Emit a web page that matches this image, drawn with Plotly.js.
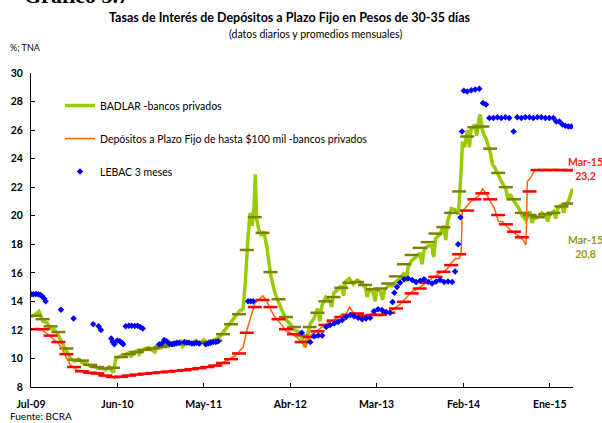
<!DOCTYPE html>
<html>
<head>
<meta charset="utf-8">
<script src="https://cdn.plot.ly/plotly-3.0.1.min.js"></script>
<style>
  body { margin: 0; background: #fff; }
  #grafico { width: 602px; height: 423px; }
</style>
</head>
<body>
<div id="grafico"></div>
<script>
// Meses de los promedios mensuales (Jul-09 a Mar-15)
const mesesProm = [
    '2009-07','2009-08','2009-09','2009-10','2009-11','2009-12',
    '2010-01','2010-02','2010-03','2010-04','2010-05','2010-06','2010-07','2010-08','2010-09','2010-10','2010-11','2010-12',
    '2011-01','2011-02','2011-03','2011-04','2011-05','2011-06','2011-07','2011-08','2011-09','2011-10','2011-11','2011-12',
    '2012-01','2012-02','2012-03','2012-04','2012-05','2012-06','2012-07','2012-08','2012-09','2012-10','2012-11','2012-12',
    '2013-01','2013-02','2013-03','2013-04','2013-05','2013-06','2013-07','2013-08','2013-09','2013-10','2013-11','2013-12',
    '2014-01','2014-02','2014-03','2014-04','2014-05','2014-06','2014-07','2014-08','2014-09','2014-10','2014-11','2014-12',
    '2015-01','2015-02','2015-03'
];

// Promedio mensual BADLAR bancos privados
const badlarProm = [
    13.0, 12.75, 12.25, 11.85, 10.7, 9.9, 9.85, 9.55, 9.4, 9.3,
    9.35, 10.1, 10.3, 10.45, 10.6, 10.7, 10.8, 10.9, 11.0, 11.05,
    11.1, 11.1, 11.15, 11.25, 11.7, 12.4, 13.1, 17.6, 19.9, 18.8,
    16.05, 14.15, 12.9, 12.2, 11.6, 12.2, 13.2, 14.0, 14.3, 14.95,
    15.3, 15.35, 15.15, 14.85, 14.9, 15.25, 15.75, 16.6, 17.25, 17.75,
    18.15, 18.75, 19.2, 20.2, 21.7, 25.55, 26.2, 26.25, 24.7, 23.0,
    22.0, 21.15, 20.2, 20.05, 19.9, 20.1, 20.2, 20.65, 20.85
];

// Promedio mensual depositos a plazo fijo hasta $100 mil
const depProm = [
    12.05, 12.05, 11.6, 11.15, 10.3, 9.4, 9.1, 9.0, 8.95, 8.8,
    8.7, 8.72, 8.8, 8.87, 8.93, 8.98, 9.03, 9.08, 9.13, 9.18,
    9.25, 9.32, 9.4, 9.5, 9.68, 9.95, 10.35, 11.8, 13.6, 14.1,
    13.6, 12.75, 12.05, 11.7, 11.15, 11.5, 11.9, 12.35, 12.65, 12.9,
    13.05, 13.15, 13.0, 13.05, 13.05, 13.2, 13.5, 13.97, 14.56, 14.9,
    15.3, 15.72, 16.07, 16.54, 17.3, 20.36, 21.15, 21.57, 21.15, 20.05,
    19.4, 18.88, 18.49, 21.7, 23.2, 23.2, 23.2, 23.2, 23.2
];

// BADLAR diaria (lecturas aproximadas, bordes de la banda)
const badlarDiario = [
    ['2009-07-01',12.9],['2009-07-16',13.05],['2009-08-01',13.3],['2009-08-10',12.9],['2009-08-16',12.6],
    ['2009-09-01',12.5],['2009-09-16',12.1],['2009-10-01',12.0],['2009-10-16',11.6],
    ['2009-11-01',11.0],['2009-11-16',10.5],['2009-12-01',10.0],['2009-12-16',9.8],
    ['2010-01-01',9.95],['2010-01-16',9.7],['2010-02-01',9.65],['2010-02-16',9.45],
    ['2010-03-01',9.5],['2010-03-16',9.3],['2010-04-01',9.35],['2010-04-16',9.2],
    ['2010-05-01',9.4],['2010-05-16',9.0],['2010-05-25',10.0],['2010-06-01',10.05],['2010-06-16',10.2],
    ['2010-07-01',10.25],['2010-07-16',10.4],['2010-07-24',10.1],['2010-08-01',10.4],['2010-08-16',10.55],
    ['2010-08-24',10.3],['2010-09-01',10.5],['2010-09-16',10.7],['2010-10-01',10.75],['2010-10-16',10.6],
    ['2010-10-24',10.45],['2010-11-01',10.9],['2010-11-16',10.75],['2010-12-01',11.0],['2010-12-16',10.85],
    ['2011-01-01',11.1],['2011-01-16',10.95],['2011-02-01',11.2],['2011-02-08',10.85],['2011-02-16',11.0],
    ['2011-03-01',11.2],['2011-03-16',11.05],['2011-04-01',11.25],['2011-04-16',11.0],
    ['2011-05-01',11.3],['2011-05-16',11.1],['2011-06-01',11.2],['2011-06-16',11.35],
    ['2011-07-01',11.5],['2011-07-16',11.85],['2011-08-01',12.2],['2011-08-16',12.6],
    ['2011-09-01',12.9],['2011-09-16',13.3],['2011-10-01',13.5],['2011-10-10',15.5],
    ['2011-10-20',18.6],['2011-10-28',20.2],['2011-11-05',19.3],['2011-11-12',20.6],
    ['2011-11-17',22.9],['2011-11-22',19.8],['2011-12-01',19.0],['2011-12-10',18.6],
    ['2011-12-20',18.9],['2012-01-01',17.8],['2012-01-16',15.8],['2012-02-01',14.6],
    ['2012-02-16',13.9],['2012-03-01',13.3],['2012-03-16',12.7],['2012-04-01',12.4],
    ['2012-04-16',12.0],['2012-05-01',11.9],['2012-05-16',11.4],['2012-05-28',10.8],
    ['2012-06-05',11.6],['2012-06-16',12.4],['2012-07-01',12.8],['2012-07-16',13.5],
    ['2012-07-24',12.6],['2012-08-01',13.7],['2012-08-16',14.3],['2012-09-01',14.0],
    ['2012-09-08',13.6],['2012-09-16',14.6],['2012-10-01',14.8],['2012-10-16',15.1],
    ['2012-10-24',14.4],['2012-11-01',15.4],['2012-11-16',15.6],
    ['2012-12-01',15.2],['2012-12-16',15.5],['2013-01-01',15.3],['2013-01-16',15.0],
    ['2013-01-24',14.3],['2013-02-01',14.9],['2013-02-16',14.6],['2013-02-24',14.0],
    ['2013-03-01',14.9],['2013-03-16',14.7],['2013-03-24',14.1],
    ['2013-04-01',14.8],['2013-04-16',15.1],['2013-05-01',15.1],['2013-05-16',15.4],
    ['2013-06-01',15.6],['2013-06-16',16.0],['2013-06-24',15.4],['2013-07-01',16.4],['2013-07-16',16.9],
    ['2013-08-01',17.1],['2013-08-16',17.4],['2013-08-24',16.6],['2013-09-01',17.6],['2013-09-16',17.9],
    ['2013-10-01',17.9],['2013-10-08',17.1],['2013-10-16',18.4],['2013-11-01',18.7],['2013-11-16',19.3],
    ['2013-11-24',18.3],['2013-12-01',19.6],['2013-12-16',20.5],['2014-01-01',20.4],['2014-01-12',20.1],
    ['2014-01-22',23.0],['2014-01-28',25.2],['2014-02-05',24.8],['2014-02-16',26.0],
    ['2014-02-24',24.8],['2014-03-01',26.0],['2014-03-16',26.4],['2014-03-24',25.6],
    ['2014-04-01',26.7],['2014-04-06',27.1],
    ['2014-04-16',25.9],['2014-05-01',25.3],['2014-05-16',24.4],['2014-05-24',23.6],['2014-06-01',23.4],
    ['2014-06-16',22.8],['2014-07-01',22.3],['2014-07-16',21.8],['2014-07-24',21.1],['2014-08-01',21.5],
    ['2014-08-16',21.0],['2014-09-01',20.6],['2014-09-16',20.0],['2014-10-01',19.7],
    ['2014-10-16',20.3],['2014-10-24',19.5],['2014-11-01',19.8],['2014-11-16',19.9],['2014-12-01',20.2],
    ['2014-12-16',20.0],['2014-12-24',19.6],['2015-01-01',20.1],['2015-01-16',20.3],['2015-01-24',19.8],
    ['2015-02-01',20.5],['2015-02-16',20.8],['2015-02-24',20.2],['2015-03-01',20.6],['2015-03-16',21.1],
    ['2015-03-30',21.9]
];

// Depositos hasta $100 mil diaria (lecturas aproximadas)
const depDiario = [
    ['2009-07-01',12.05],['2009-07-16',12.1],['2009-08-01',12.1],['2009-08-16',11.95],
    ['2009-09-01',11.75],['2009-09-16',11.5],['2009-10-01',11.3],['2009-10-16',11.05],
    ['2009-11-01',10.6],['2009-11-16',10.0],['2009-12-01',9.55],['2009-12-16',9.3],
    ['2010-01-01',9.15],['2010-01-16',9.05],['2010-02-01',9.0],['2010-02-16',8.95],
    ['2010-03-01',8.95],['2010-03-16',8.9],['2010-04-01',8.85],['2010-04-16',8.75],
    ['2010-05-01',8.7],['2010-05-16',8.65],['2010-06-01',8.65],['2010-06-16',8.75],
    ['2010-07-01',8.78],['2010-07-16',8.83],['2010-08-01',8.85],['2010-08-16',8.9],
    ['2010-09-01',8.92],['2010-09-16',8.95],['2010-10-01',8.97],['2010-10-16',9.0],
    ['2010-11-01',9.02],['2010-11-16',9.05],['2010-12-01',9.07],['2010-12-16',9.1],
    ['2011-01-01',9.1],['2011-01-16',9.15],['2011-02-01',9.15],['2011-02-16',9.2],
    ['2011-03-01',9.22],['2011-03-16',9.28],['2011-04-01',9.3],['2011-04-16',9.35],
    ['2011-05-01',9.37],['2011-05-16',9.43],['2011-06-01',9.45],['2011-06-16',9.55],
    ['2011-07-01',9.6],['2011-07-16',9.75],['2011-08-01',9.85],['2011-08-16',10.05],
    ['2011-09-01',10.2],['2011-09-16',10.5],['2011-10-01',10.8],['2011-10-16',12.0],
    ['2011-11-01',13.0],['2011-11-16',13.9],['2011-12-01',14.1],['2011-12-16',14.4],
    ['2012-01-01',14.0],['2012-01-16',13.4],['2012-02-01',12.9],['2012-02-16',12.6],
    ['2012-03-01',12.3],['2012-03-16',11.9],['2012-04-01',11.8],['2012-04-16',11.6],
    ['2012-05-01',11.4],['2012-05-16',11.1],['2012-05-30',10.8],['2012-06-16',11.6],
    ['2012-07-01',11.8],['2012-07-16',12.0],['2012-08-01',12.2],['2012-08-16',12.4],
    ['2012-09-01',12.6],['2012-09-16',12.7],['2012-10-01',12.85],['2012-10-16',13.1],
    ['2012-11-01',13.05],['2012-11-16',13.6],['2012-12-01',13.2],['2012-12-16',13.1],
    ['2013-01-01',13.0],['2013-01-16',12.9],['2013-02-01',13.0],['2013-02-16',13.3],
    ['2013-03-01',13.1],['2013-03-16',13.0],['2013-04-01',13.1],['2013-04-16',13.3],
    ['2013-05-01',13.4],['2013-05-16',13.6],['2013-06-01',13.8],['2013-06-16',14.1],
    ['2013-07-01',14.4],['2013-07-16',14.7],['2013-08-01',14.8],['2013-08-16',15.0],
    ['2013-09-01',15.2],['2013-09-16',15.4],['2013-10-01',15.6],['2013-10-16',15.8],
    ['2013-11-01',16.0],['2013-11-16',16.1],['2013-12-01',16.3],['2013-12-16',16.7],
    ['2014-01-01',17.0],['2014-01-16',17.0],['2014-01-23',17.5],['2014-01-27',20.3],
    ['2014-02-16',20.7],['2014-03-01',21.0],['2014-03-16',21.2],['2014-04-01',21.4],
    ['2014-04-16',21.9],['2014-05-01',21.5],['2014-05-16',21.0],['2014-06-01',20.5],
    ['2014-06-16',19.6],['2014-07-01',19.6],['2014-07-16',19.3],['2014-08-01',19.0],
    ['2014-08-16',18.8],['2014-09-01',18.6],['2014-09-16',18.4],['2014-10-01',17.95],
    ['2014-10-06',22.4],['2014-10-20',22.7],['2014-11-01',23.1],['2014-11-16',23.25],
    ['2014-12-01',23.2],['2014-12-16',23.25],['2015-01-01',23.2],['2015-01-16',23.25],
    ['2015-02-01',23.2],['2015-02-16',23.2],['2015-03-01',23.2],['2015-03-16',23.15],
    ['2015-03-30',23.1]
];

// LEBAC 3 meses (licitaciones)
const lebacFechas = [
    '2009-07-01','2009-07-10','2009-07-20','2009-07-29','2009-08-06','2009-08-13','2009-08-21','2009-08-27',
    '2009-10-25','2009-12-13','2010-02-27','2010-03-20','2010-03-29',
    '2010-05-08','2010-05-14','2010-05-20','2010-05-31','2010-06-10','2010-06-18','2010-06-23',
    '2010-07-03','2010-07-15','2010-07-26','2010-08-07','2010-08-18','2010-08-28','2010-09-07',
    '2010-11-10','2010-11-20','2010-11-29','2010-12-09','2010-12-19','2010-12-29','2011-01-07','2011-01-17','2011-01-27',
    '2011-02-15','2011-02-24','2011-03-06','2011-03-16','2011-03-25','2011-04-04','2011-04-14',
    '2011-05-09','2011-05-19','2011-05-28','2011-06-07','2011-06-17','2011-06-26',
    '2011-10-20','2011-10-30','2011-11-09',
    '2012-05-15','2012-06-17','2012-07-02','2012-07-18','2012-08-02','2012-08-18','2012-09-02','2012-09-18',
    '2012-10-03','2012-10-19','2012-11-03','2012-11-19','2012-12-04','2012-12-20',
    '2013-01-04','2013-01-19','2013-02-04','2013-02-19','2013-03-07','2013-03-22','2013-04-07','2013-04-22',
    '2013-05-02','2013-05-09','2013-05-19','2013-05-31','2013-06-16','2013-07-01',
    '2013-07-17','2013-08-01','2013-08-17','2013-09-01','2013-09-17','2013-10-02','2013-10-18','2013-11-02',
    '2013-11-18','2013-12-03','2013-12-19','2013-12-30','2014-01-11','2014-01-20','2014-01-26',
    '2014-02-02','2014-02-15','2014-03-03','2014-03-18','2014-04-03','2014-04-17','2014-04-29',
    '2014-05-12','2014-05-27','2014-06-12','2014-06-27','2014-07-13','2014-07-28','2014-08-14','2014-08-28',
    '2014-09-13','2014-09-28','2014-10-14','2014-10-29','2014-11-14','2014-11-29','2014-12-15','2014-12-30',
    '2015-01-15','2015-01-26','2015-02-07','2015-02-19','2015-03-02','2015-03-14','2015-03-25'
];
const lebacTasa = [
    14.5, 14.5, 14.52, 14.5, 14.45, 14.35, 14.2, 14.0,
    13.42, 12.8, 12.4, 12.25, 12.0,
    11.4, 11.15, 11.0, 11.25, 11.2, 11.1, 11.0,
    12.25, 12.3, 12.3, 12.28, 12.3, 12.2, 12.1,
    11.0, 11.05, 11.3, 11.2, 11.05, 11.0, 11.05, 11.1, 11.1,
    11.15, 11.1, 11.1, 11.05, 11.05, 11.1, 11.05,
    11.0, 11.05, 11.1, 11.15, 11.15, 11.2,
    14.0, 14.0, 14.0,
    11.8, 11.15, 11.55, 11.6, 11.6, 12.2, 12.35, 12.45,
    12.55, 12.7, 12.9, 13.05, 12.95, 12.85,
    12.75, 12.8, 12.85, 13.3, 13.45, 13.4, 13.25, 13.2,
    13.95, 14.6, 15.0, 15.3, 15.55, 15.6,
    15.5, 15.35, 15.45, 15.55, 15.35, 15.25, 15.4, 15.5,
    15.35, 15.4, 15.35, 16.1, 18.0, 19.9, 25.9,
    28.75, 28.7, 28.8, 28.85, 28.9, 27.9, 27.8,
    26.85, 26.85, 26.9, 26.85, 26.9, 26.85, 25.9, 26.9,
    26.85, 26.9, 26.9, 26.85, 26.9, 26.9, 26.85, 26.85,
    26.85, 26.6, 26.6, 26.4, 26.3, 26.25, 26.25
];

// Eje x
const tickFechas = ['2009-07-01','2010-06-01','2011-05-01','2012-04-01','2013-03-01','2014-02-01','2015-01-01'];
const tickTextos = ['Jul-09','Jun-10','May-11','Abr-12','Mar-13','Feb-14','Ene-15'];

const VERDE = '#99CC00';
const OLIVA = '#808000';
const NARANJA = '#FF6600';
const ROJO = '#FF0000';
const AZUL = '#0000FF';

const fechasProm = mesesProm.map(m => m + '-15');

const traces = [
    {
        x: badlarDiario.map(d => d[0]), y: badlarDiario.map(d => d[1]),
        type: 'scatter', mode: 'lines', name: 'BADLAR -bancos privados',
        line: {color: VERDE, width: 3.5}, legendgroup: 'a'
    },
    {
        x: fechasProm, y: badlarProm, type: 'scatter', mode: 'markers', showlegend: false,
        marker: {symbol: 'line-ew', size: 10, line: {color: OLIVA, width: 2.5}}
    },
    {
        x: depDiario.map(d => d[0]), y: depDiario.map(d => d[1]),
        type: 'scatter', mode: 'lines', name: 'Depósitos a Plazo Fijo de hasta $100 mil -bancos privados',
        line: {color: NARANJA, width: 1.5}, legendgroup: 'b'
    },
    {
        x: fechasProm, y: depProm, type: 'scatter', mode: 'markers', showlegend: false,
        marker: {symbol: 'line-ew', size: 10, line: {color: ROJO, width: 2.5}}
    },
    {
        x: lebacFechas, y: lebacTasa, type: 'scatter', mode: 'markers', name: 'LEBAC 3 meses',
        marker: {symbol: 'diamond', size: 5, color: AZUL}, legendgroup: 'c'
    }
];

// Convierte pixeles de la figura a coordenadas "paper"
function px(x) { return (x - 31) / 542; }
function py(y) { return (387 - y) / 314; }

const layout = {
    width: 602,
    height: 423,
    margin: {l: 31, r: 29, t: 73, b: 36},
    paper_bgcolor: '#ffffff',
    plot_bgcolor: '#ffffff',
    font: {family: 'Lato, "DejaVu Sans", sans-serif', size: 10, color: '#000'},
    showlegend: true,
    legend: {
        x: px(60), y: py(91), xanchor: 'left', yanchor: 'top',
        font: {size: 10.5, color: '#000'}, tracegroupgap: 14,
        bgcolor: 'rgba(0,0,0,0)', borderwidth: 0
    },
    xaxis: {
        type: 'date', range: ['2009-07-01', '2015-04-01'],
        tickmode: 'array', tickvals: tickFechas, ticktext: tickTextos,
        ticks: 'inside', ticklen: 4, tickcolor: '#000',
        showline: true, linecolor: '#000', linewidth: 1,
        showgrid: false, zeroline: false,
        tickfont: {size: 10.5, weight: 'bold'}, ticklabelstandoff: 7
    },
    yaxis: {
        range: [8, 30], tick0: 8, dtick: 2,
        ticks: 'inside', ticklen: 4, tickcolor: '#000',
        showline: true, linecolor: '#000', linewidth: 1,
        showgrid: false, zeroline: false,
        tickfont: {size: 10.5, weight: 'bold'}, ticklabelstandoff: 5
    },
    annotations: [
        {text: 'Gráfico 3.7', xref: 'paper', yref: 'paper', x: px(22), y: py(9.5),
         xanchor: 'left', yanchor: 'bottom', showarrow: false,
         font: {family: '"Liberation Serif", "DejaVu Serif", serif', size: 22, weight: 'bold'}},
        {text: '<b>Tasas de Interés de Depósitos a Plazo Fijo en Pesos de 30-35 días</b>',
         xref: 'paper', yref: 'paper', x: px(289.5), y: py(17), xanchor: 'center', yanchor: 'middle',
         showarrow: false, font: {size: 12.5}},
        {text: '(datos diarios y promedios mensuales)', xref: 'paper', yref: 'paper',
         x: px(315.5), y: py(34), xanchor: 'center', yanchor: 'middle', showarrow: false, font: {size: 10.5}},
        {text: '%; TNA', xref: 'paper', yref: 'paper', x: px(8), y: py(47),
         xanchor: 'left', yanchor: 'middle', showarrow: false, font: {size: 9}},
        {text: 'Fuente: BCRA', xref: 'paper', yref: 'paper', x: px(8), y: py(416),
         xanchor: 'left', yanchor: 'middle', showarrow: false, font: {size: 10}},
        {text: '<b>Mar-15<br>23,2</b>', xref: 'paper', yref: 'paper', x: px(585), y: py(168.5),
         xanchor: 'center', yanchor: 'middle', showarrow: false, font: {size: 10.5, color: '#FF2020'}},
        {text: '<b>Mar-15<br>20,8</b>', xref: 'paper', yref: 'paper', x: px(585), y: py(247.5),
         xanchor: 'center', yanchor: 'middle', showarrow: false, font: {size: 10.5, color: '#999922'}}
    ]
};

Plotly.newPlot('grafico', traces, layout, {displayModeBar: false, staticPlot: true});
</script>
</body>
</html>
